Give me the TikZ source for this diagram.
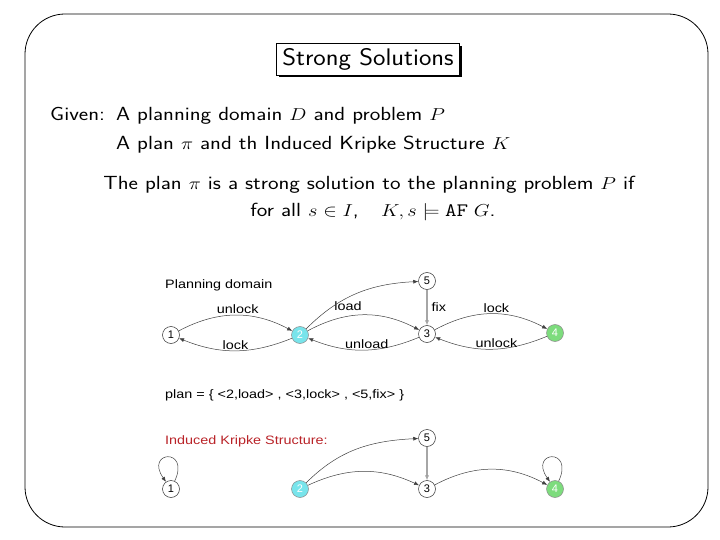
\documentclass[tikz,border=0pt]{standalone}
\usepackage{graphicx}
\usepackage{fontspec}
\newfontfamily\helv{Liberation Sans}
\usetikzlibrary{arrows.meta,shadows}
\definecolor{initcyan}{RGB}{120,228,235}
\definecolor{goalgreen}{RGB}{125,220,125}
\definecolor{kripkered}{RGB}{185,35,40}
\newcommand{\wide}[1]{\scalebox{1.18}[1]{#1}}
\begin{document}
\begin{tikzpicture}[x=1pt,y=-1pt,
  slide/.style={font=\sffamily\fontsize{19}{23}\selectfont,inner sep=0pt},
  graphtxt/.style={font=\helv\fontsize{12.2}{12.2}\selectfont,inner sep=1pt},
  state/.style={circle,draw=black!80,line width=0.5pt,minimum size=17pt,inner sep=0pt,
    font=\helv\fontsize{11}{11}\selectfont},
  initstate/.style={state,fill=initcyan,draw=black!45,text=white},
  goalstate/.style={state,fill=goalgreen,draw=black!45,text=white},
  trans/.style={draw=black!75,line width=0.5pt,-{Latex[length=5pt,width=4pt]}},
  fixtrans/.style={draw=black!35,line width=1.3pt,-{Latex[length=5pt,width=4.5pt,fill=black!80]}}]
\useasboundingbox (0,0) rectangle (720,540);
\draw[line width=0.8pt,rounded corners=40pt] (25,14) rectangle (708,527);
\node[draw,line width=0.6pt,inner xsep=6pt,inner ysep=5pt,fill=white,
  drop shadow={shadow xshift=2.5pt,shadow yshift=-2.5pt,fill=black,opacity=1},
  font=\sffamily\fontsize{24}{28}\selectfont] (title) at (368,59) {\scalebox{1.1}[1]{Strong Solutions}};
\node[slide,anchor=base west] (given) at (50,121) {\wide{Given:}};
\node[slide,anchor=base west] (domain) at (116,121) {\wide{A planning domain $D$ and problem $P$}};
\node[slide,anchor=base west] (plan) at (116,150) {\wide{A plan $\pi$ and th Induced Kripke Structure $K$}};
\node[slide,anchor=base] (strong) at (369,190) {\wide{The plan $\pi$ is a strong solution to the planning problem $P$ if}};
\node[slide,anchor=base] (forall) at (373,217) {\wide{for all $s\in I$,\quad $K,s\models \mathtt{AF}\;G$.}};
\node[graphtxt,anchor=base west] (domtitle) at (164,288) {\wide{Planning domain}};
\node[state] (d1) at (171,335) {1};
\node[initstate] (d2) at (300,335) {2};
\node[state] (d3) at (427,334) {3};
\node[goalstate] (d4) at (555,333) {4};
\node[state] (d5) at (427,281) {5};
\draw[trans] (d1) to[bend left=28] node[graphtxt,above,pos=0.52] {\wide{unlock}} (d2);
\draw[trans] (d2) to[bend left=22] node[graphtxt,above,pos=0.5] {\wide{lock}} (d1);
\draw[trans] (d2) to[bend left=28] node[graphtxt,above=4pt,pos=0.36] {\wide{load}} (d3);
\draw[trans] (d3) to[bend left=22] node[graphtxt,above,pos=0.47] {\wide{unload}} (d2);
\draw[trans] (d3) to[bend left=28] node[graphtxt,above,pos=0.55] {\wide{lock}} (d4);
\draw[trans] (d4) to[bend left=22] node[graphtxt,above,pos=0.45] {\wide{unlock}} (d3);
\draw[trans] (d2) to[out=45,in=183] (d5);
\draw[fixtrans] (d5) -- node[graphtxt,right=3pt] {\wide{fix}} (d3);
\node[graphtxt,anchor=base west] (plantxt) at (164,398) {\wide{plan = \{ <2,load> , <3,lock> , <5,fix> \}}};
\node[graphtxt,anchor=base west,text=kripkered] (kripke) at (164,444) {\wide{Induced Kripke Structure:}};
\node[state] (k1) at (171,489) {1};
\node[initstate] (k2) at (300,489) {2};
\node[state] (k3) at (427,489) {3};
\node[goalstate] (k4) at (555,489) {4};
\node[state] (k5) at (427,438) {5};
\draw[trans] (k1) to[out=65,in=125,looseness=11] (k1);
\draw[trans] (k4) to[out=65,in=125,looseness=11] (k4);
\draw[trans] (k2) to[out=45,in=183] (k5);
\draw[trans] (k2) to[bend left=25] (k3);
\draw[trans] (k3) to[bend left=28] (k4);
\draw[fixtrans] (k5) -- (k3);
\end{tikzpicture}
\end{document}
